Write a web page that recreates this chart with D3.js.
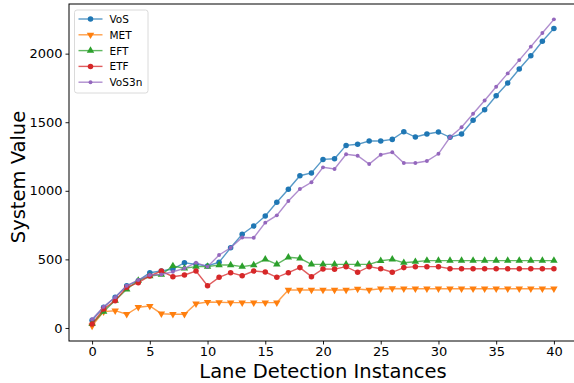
<!DOCTYPE html>
<html>
<head>
<meta charset="utf-8">
<script src="https://cdn.jsdelivr.net/npm/d3@7"></script>
<style>
  body { margin: 0; background: #fff; }
  svg { display: block; font-family: 'DejaVu Sans', sans-serif; }
</style>
</head>
<body>
<svg id="chart" width="574" height="383"></svg>
<script>
const instances = d3.range(0, 41);
const xTicks = [0, 5, 10, 15, 20, 25, 30, 35, 40];
const yTicks = [0, 500, 1000, 1500, 2000];

const vos = [56, 151, 224, 308, 345, 403, 415, 430, 476, 464,
  452, 479, 585, 683, 743, 816, 916, 1011, 1110, 1130,
  1229, 1234, 1331, 1339, 1363, 1363, 1375, 1431, 1392, 1414,
  1429, 1390, 1414, 1514, 1591, 1693, 1786, 1888, 1985, 2090, 2184];
const met = [15, 119, 126, 100, 151, 160, 104, 100, 100, 177,
  189, 187, 185, 185, 185, 185, 185, 277, 277, 277,
  277, 277, 277, 284, 277, 286, 288, 286, 286, 286,
  286, 286, 286, 286, 286, 286, 286, 286, 286, 286, 286];
const eft = [30, 120, 200, 282, 345, 379, 390, 452, 435, 447,
  447, 459, 459, 447, 459, 500, 464, 515, 508, 464,
  464, 464, 464, 464, 464, 490, 500, 476, 483, 491,
  491, 491, 491, 491, 491, 491, 491, 491, 491, 491, 491];
const etf = [29, 138, 199, 296, 330, 379, 415, 374, 386, 415,
  308, 369, 403, 381, 415, 408, 369, 403, 440, 374,
  430, 429, 447, 406, 447, 432, 406, 440, 447, 447,
  447, 432, 432, 432, 432, 432, 432, 432, 432, 432, 432];
const vos3n = [64, 155, 224, 308, 350, 386, 390, 410, 435, 476,
  447, 532, 585, 660, 658, 768, 821, 926, 1013, 1062,
  1171, 1159, 1266, 1256, 1195, 1263, 1281, 1203, 1203, 1217,
  1270, 1390, 1463, 1562, 1659, 1759, 1856, 1953, 2051, 2150, 2250];

const series = [
  { name: 'VoS',   values: vos,   color: '#1f77b4', marker: 'circle',  size: 24 },
  { name: 'MET',   values: met,   color: '#ff7f0e', marker: 'triDown', size: 24 },
  { name: 'EFT',   values: eft,   color: '#2ca02c', marker: 'triUp',   size: 24 },
  { name: 'ETF',   values: etf,   color: '#d62728', marker: 'circle',  size: 24 },
  { name: 'VoS3n', values: vos3n, color: '#9467bd', marker: 'circle',  size: 12 }
];

const svg = d3.select('#chart');
const x = d3.scaleLinear().domain([-2, 42]).range([69, 577]);
const y = d3.scaleLinear().domain([-95, 2362]).range([341, 4]);

function symbolFor(s) {
  const type = s.marker === 'circle' ? d3.symbolCircle : d3.symbolTriangle;
  return d3.symbol().type(type).size(s.size)();
}

// Lines + markers
const line = d3.line().x((d, i) => x(instances[i])).y(d => y(d));
series.forEach(s => {
  const g = svg.append('g');
  g.append('path')
    .attr('d', line(s.values))
    .attr('fill', 'none')
    .attr('stroke', s.color)
    .attr('stroke-opacity', 0.75)
    .attr('stroke-width', 1.4);
  g.selectAll('path.m')
    .data(s.values).enter().append('path')
    .attr('class', 'm')
    .attr('d', symbolFor(s))
    .attr('fill', s.color)
    .attr('transform', (d, i) => `translate(${x(instances[i])},${y(d)})` + (s.marker === 'triDown' ? ' rotate(180)' : ''));
});

// Axes
const xAxis = svg.append('g').attr('transform', 'translate(0,341)')
  .call(d3.axisBottom(x).tickValues(xTicks).tickFormat(d3.format('d')).tickSize(3.5).tickPadding(2.5));
const yAxis = svg.append('g').attr('transform', 'translate(69,0)')
  .call(d3.axisLeft(y).tickValues(yTicks).tickFormat(d3.format('d')).tickSize(3.5).tickPadding(3));
[xAxis, yAxis].forEach(a => {
  a.select('.domain').remove();
  a.selectAll('text').attr('font-size', 13).attr('font-family', "'DejaVu Sans', sans-serif").attr('fill', '#000');
  a.selectAll('line').attr('stroke', '#000').attr('stroke-width', 0.9);
});

// Frame
svg.append('rect')
  .attr('x', 69).attr('y', 4).attr('width', 577 - 69).attr('height', 341 - 4)
  .attr('fill', 'none').attr('stroke', '#000').attr('stroke-width', 1);

// Axis titles
svg.append('text')
  .attr('x', 323).attr('y', 378)
  .attr('text-anchor', 'middle').attr('font-size', 19.5)
  .text('Lane Detection Instances');
svg.append('text')
  .attr('transform', 'translate(25,177) rotate(-90)')
  .attr('text-anchor', 'middle').attr('font-size', 19.5)
  .text('System Value');

// Legend
const legend = svg.append('g').attr('transform', 'translate(74.5,10)');
legend.append('rect')
  .attr('width', 73.5).attr('height', 83).attr('rx', 2.5)
  .attr('fill', '#fff').attr('fill-opacity', 0.8)
  .attr('stroke', '#d0d0d0').attr('stroke-width', 0.8);
series.forEach((s, i) => {
  const row = legend.append('g').attr('transform', `translate(0,${9 + i * 15.8})`);
  row.append('line').attr('x1', 4).attr('x2', 28)
    .attr('stroke', s.color).attr('stroke-opacity', 0.75).attr('stroke-width', 1.4);
  row.append('path').attr('d', symbolFor(s)).attr('fill', s.color)
    .attr('transform', 'translate(16,0)' + (s.marker === 'triDown' ? ' rotate(180)' : ''));
  row.append('text').attr('x', 35).attr('y', 4).attr('font-size', 10.5).text(s.name);
});
</script>
</body>
</html>
